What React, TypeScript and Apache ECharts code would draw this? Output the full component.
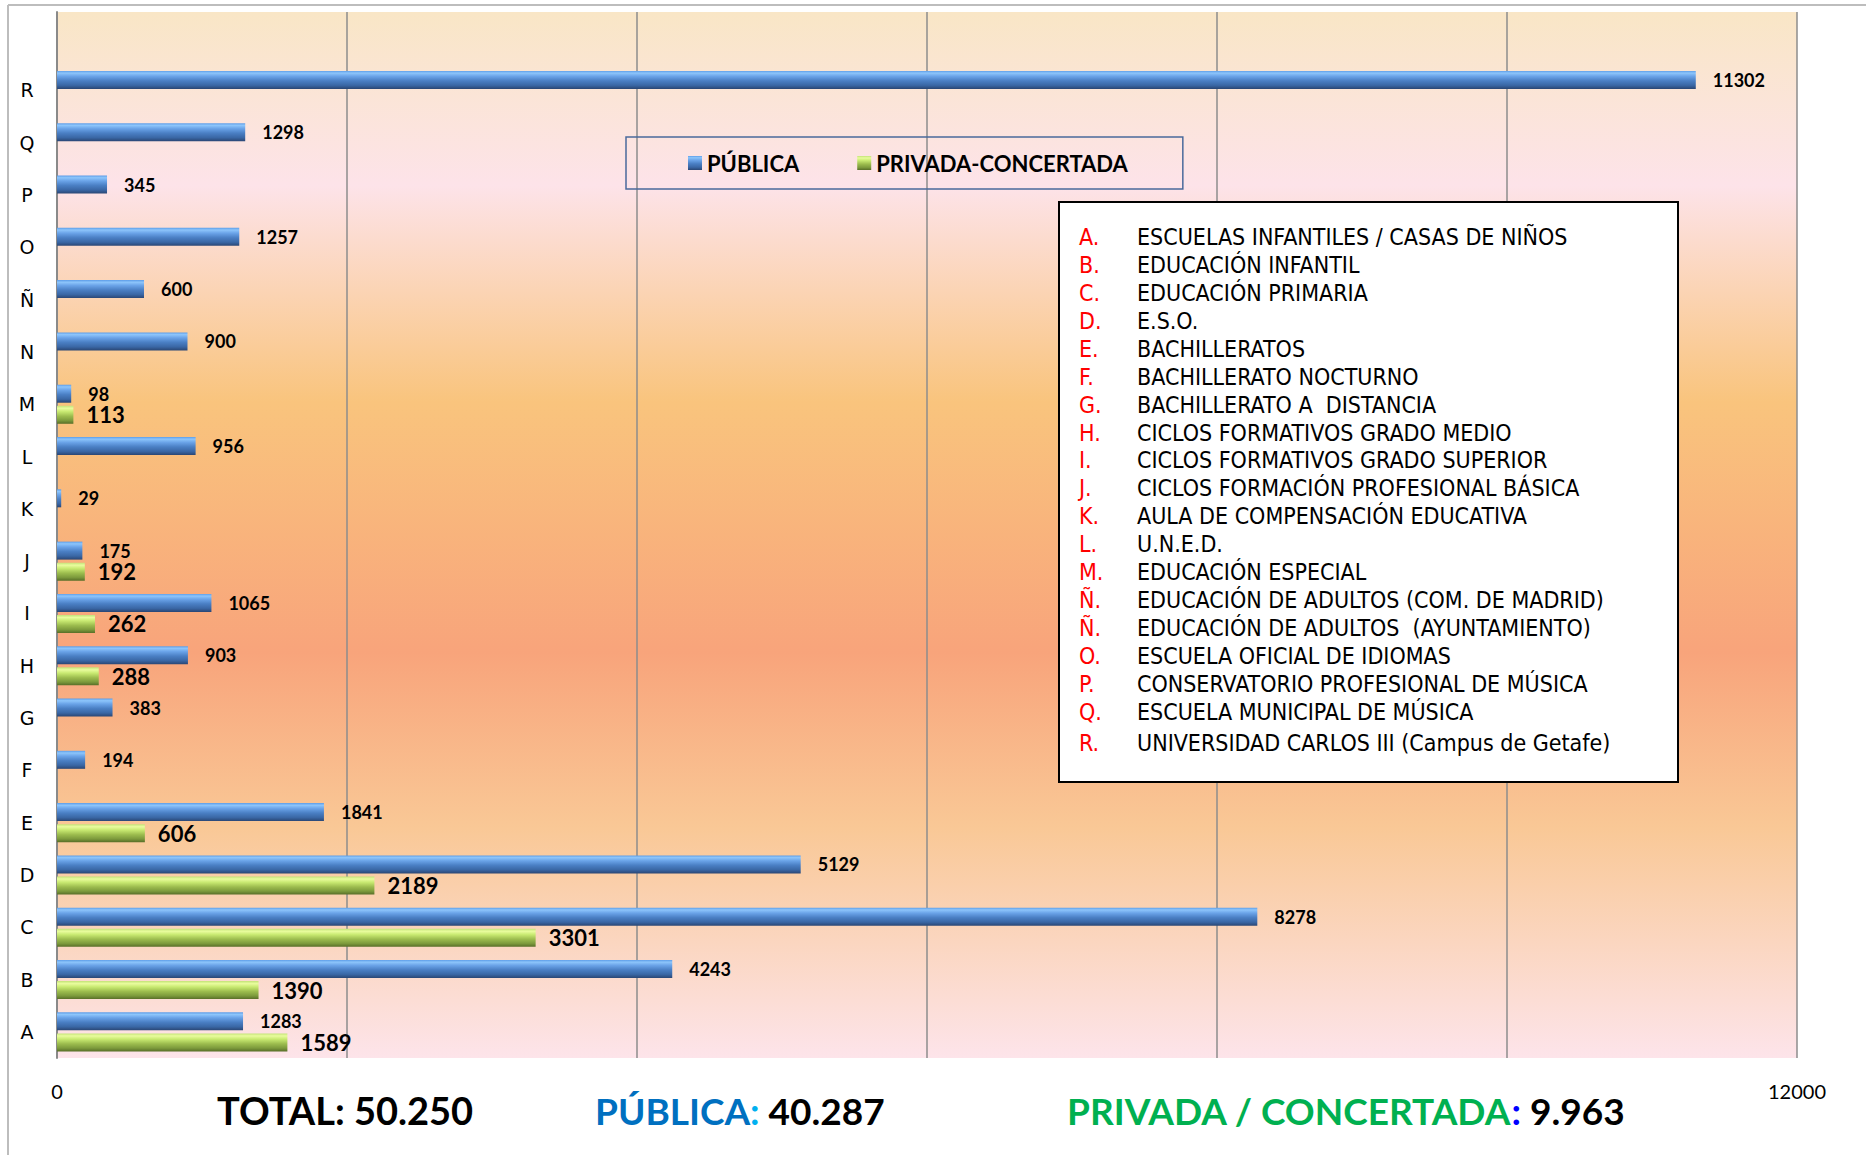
import React, { useEffect, useRef } from 'react';
import * as echarts from 'echarts';

// ---------- DATA ----------
const categories = ['A', 'B', 'C', 'D', 'E', 'F', 'G', 'H', 'I', 'J', 'K', 'L', 'M', 'N', 'Ñ', 'O', 'P', 'Q', 'R', ''];
const publica: (number | null)[] = [1283, 4243, 8278, 5129, 1841, 194, 383, 903, 1065, 175, 29, 956, 98, 900, 600, 1257, 345, 1298, 11302, null];
const privada: (number | null)[] = [1589, 1390, 3301, 2189, 606, null, null, 288, 262, 192, null, null, 113, null, null, null, null, null, null, null];
const seriesNames = ['PÚBLICA', 'PRIVADA-CONCERTADA'];
const xTickLabels = ['0', '12000'];
const keyLetters = ['A.', 'B.', 'C.', 'D.', 'E.', 'F.', 'G.', 'H.', 'I.', 'J.', 'K.', 'L.', 'M.', 'Ñ.', 'Ñ.', 'O.', 'P.', 'Q.', 'R.'];
const keyTexts = [
  'ESCUELAS INFANTILES / CASAS DE NIÑOS',
  'EDUCACIÓN INFANTIL',
  'EDUCACIÓN PRIMARIA',
  'E.S.O.',
  'BACHILLERATOS',
  'BACHILLERATO NOCTURNO',
  'BACHILLERATO A  DISTANCIA',
  'CICLOS FORMATIVOS GRADO MEDIO',
  'CICLOS FORMATIVOS GRADO SUPERIOR',
  'CICLOS FORMACIÓN PROFESIONAL BÁSICA',
  'AULA DE COMPENSACIÓN EDUCATIVA',
  'U.N.E.D.',
  'EDUCACIÓN ESPECIAL',
  'EDUCACIÓN DE ADULTOS (COM. DE MADRID)',
  'EDUCACIÓN DE ADULTOS  (AYUNTAMIENTO)',
  'ESCUELA OFICIAL DE IDIOMAS',
  'CONSERVATORIO PROFESIONAL DE MÚSICA',
  'ESCUELA MUNICIPAL DE MÚSICA',
  'UNIVERSIDAD CARLOS III (Campus de Getafe)',
];
const totalLabels = ['TOTAL', 'PÚBLICA', 'PRIVADA / CONCERTADA'];
const totalValues = ['50.250', '40.287', '9.963'];

// ---------- STYLES ----------
const blueGrad = new echarts.graphic.LinearGradient(0, 0, 0, 1, [
  { offset: 0, color: '#5e9ee8' },
  { offset: 0.12, color: '#8dc5fb' },
  { offset: 0.3, color: '#6aa3e8' },
  { offset: 0.55, color: '#4a7fc4' },
  { offset: 0.8, color: '#3a67a5' },
  { offset: 1, color: '#2a4674' },
]);
const greenGrad = new echarts.graphic.LinearGradient(0, 0, 0, 1, [
  { offset: 0, color: '#c3e378' },
  { offset: 0.14, color: '#e9fc9e' },
  { offset: 0.32, color: '#c9ea72' },
  { offset: 0.58, color: '#9cbc4e' },
  { offset: 0.82, color: '#7c9a3c' },
  { offset: 1, color: '#586e28' },
]);
const plotBg = new echarts.graphic.LinearGradient(0, 0, 0, 1, [
  { offset: 0, color: '#f9e6c6' },
  { offset: 0.166, color: '#fde3e9' },
  { offset: 0.373, color: '#f9c47d' },
  { offset: 0.612, color: '#f8a47b' },
  { offset: 0.78, color: '#f9c896' },
  { offset: 1, color: '#fde4ea' },
]);

export default function App() {
  const ref = useRef<HTMLDivElement>(null);

  useEffect(() => {
    document.body.style.margin = '0';
    if (!ref.current) return;
    const chart = echarts.init(ref.current, undefined, { renderer: 'svg' });

    const keyFont = "'DejaVu Sans Condensed', 'Noto Sans', sans-serif";
    const graphicEls: any[] = [
      {
        type: 'line',
        z: 100,
        shape: { x1: 8, y1: 5, x2: 1866, y2: 5 },
        style: { stroke: '#bdbdbd', lineWidth: 2 },
      },
      {
        type: 'line',
        z: 100,
        shape: { x1: 8, y1: 5, x2: 8, y2: 1155 },
        style: { stroke: '#bdbdbd', lineWidth: 2 },
      },
      {
        type: 'rect',
        z: 100,
        shape: { x: 1059, y: 202, width: 619, height: 580 },
        style: { fill: '#ffffff', stroke: '#000000', lineWidth: 2 },
      },
    ];
    keyLetters.forEach((l, i) => {
      const y = 237 + i * 27.93 + (i === 18 ? 3 : 0);
      graphicEls.push({
        type: 'text',
        z: 101,
        x: 1079,
        y,
        style: { text: l, fill: '#ff0000', fontFamily: keyFont, fontSize: 23, align: 'left', verticalAlign: 'middle' },
      });
      graphicEls.push({
        type: 'text',
        z: 101,
        x: 1137,
        y,
        style: { text: keyTexts[i], fill: '#000000', fontFamily: keyFont, fontSize: 23, align: 'left', verticalAlign: 'middle' },
      });
    });

    const bigFont = { fontFamily: 'Lato', fontWeight: 'bold' as const, fontSize: 37 };

    graphicEls.push(
      {
        type: 'text',
        x: 217,
        y: 1110,
        z: 100,
        style: {
          text: `{k|${totalLabels[0]}: ${totalValues[0]}}`,
          rich: { k: { ...bigFont, fontSize: 38, fill: '#000000' } },
          verticalAlign: 'middle',
        },
      },
      {
        type: 'text',
        x: 595,
        y: 1110,
        z: 100,
        style: {
          text: `{a|${totalLabels[1]}}{c|:}{v| ${totalValues[1]}}`,
          rich: {
            a: { ...bigFont, fill: '#0070c0' },
            c: { ...bigFont, fill: '#00b0f0' },
            v: { ...bigFont, fill: '#000000' },
          },
          verticalAlign: 'middle',
        },
      },
      {
        type: 'text',
        x: 1067,
        y: 1110,
        z: 100,
        style: {
          text: `{a|${totalLabels[2]}}{c|:}{v| ${totalValues[2]}}`,
          rich: {
            a: { ...bigFont, fill: '#00b050' },
            c: { ...bigFont, fill: '#0000ff' },
            v: { ...bigFont, fill: '#000000' },
          },
          verticalAlign: 'middle',
        },
      }
    );

    chart.setOption({
      animation: false,
      backgroundColor: '#ffffff',
      grid: {
        left: 57,
        right: 69,
        top: 12,
        bottom: 97,
        show: true,
        backgroundColor: plotBg,
        borderWidth: 0,
        containLabel: false,
        outerBoundsMode: 'none',
      },
      legend: {
        show: true,
        left: 626,
        top: 137,
        orient: 'horizontal',
        padding: [15, 55, 15, 62],
        itemGap: 58,
        itemWidth: 14,
        itemHeight: 14,
        icon: 'rect',
        borderColor: '#4a6a9c',
        borderWidth: 1.5,
        data: seriesNames,
        textStyle: { fontFamily: 'Lato', fontWeight: 'bold', fontSize: 22, color: '#000000' },
      },
      xAxis: {
        type: 'value',
        min: 0,
        max: 12000,
        interval: 2000,
        axisLine: { show: false },
        axisTick: { show: false },
        splitLine: { show: true, lineStyle: { color: '#8c8c8c', width: 1.5 } },
        axisLabel: {
          formatter: (v: number) => (xTickLabels.includes(String(v)) ? String(v) : ''),
          margin: 23,
          fontFamily: 'Lato',
          fontSize: 20,
          color: '#000000',
          showMinLabel: true,
          showMaxLabel: true,
        },
      },
      yAxis: {
        type: 'category',
        data: categories,
        axisLine: { show: true, lineStyle: { color: '#8a8a8a', width: 2 } },
        axisTick: { show: false },
        splitLine: { show: false },
        axisLabel: {
          margin: 30,
          align: 'center',
          fontFamily: "'DejaVu Sans', sans-serif",
          fontSize: 19,
          color: '#000000',
          interval: 0,
        },
      },
      series: [
        {
          type: 'bar',
          name: seriesNames[0],
          data: publica,
          barWidth: 18,
          barGap: '17%',
          itemStyle: { color: blueGrad },
          label: {
            show: true,
            position: 'right',
            distance: 17,
            fontFamily: 'Lato',
            fontWeight: 'bold',
            fontSize: 18,
            color: '#000000',
          },
        },
        {
          type: 'bar',
          name: seriesNames[1],
          data: privada,
          barWidth: 18,
          barGap: '17%',
          itemStyle: { color: greenGrad },
          label: {
            show: true,
            position: 'right',
            distance: 13,
            fontFamily: 'Lato',
            fontWeight: 'bold',
            fontSize: 22,
            color: '#000000',
          },
        },
      ],
      graphic: graphicEls,
    });

    return () => {
      chart.dispose();
    };
  }, []);

  return <div ref={ref} style={{ width: '1866px', height: '1155px', overflow: 'hidden' }} />;
}
